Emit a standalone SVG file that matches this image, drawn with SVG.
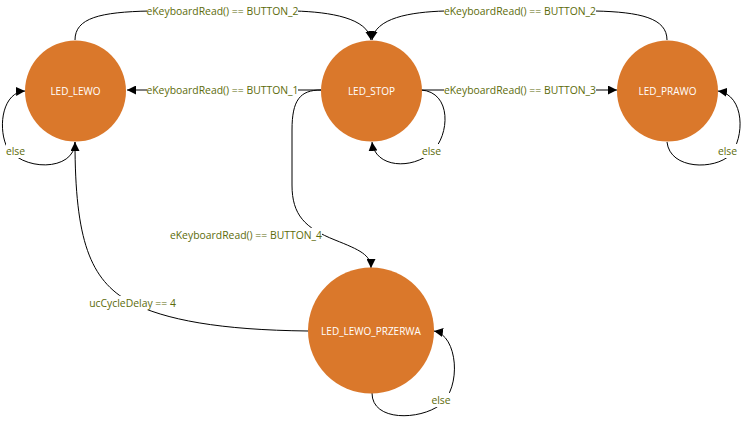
<svg xmlns="http://www.w3.org/2000/svg" width="743" height="423" viewBox="0 0 743 423">
<defs>
<marker id="arr" viewBox="0 0 10 10" refX="10" refY="5" markerWidth="9" markerHeight="9" markerUnits="userSpaceOnUse" orient="auto">
<path d="M0,0 L10,5 L0,10 z" fill="#000"/>
</marker>
<style>
.st{fill:#DA782B;}
.sl{font-family:"Open Sans","DejaVu Sans",sans-serif;font-size:10px;fill:#fff;text-anchor:middle;dominant-baseline:central;}
.e{fill:none;stroke:#000;stroke-width:1;marker-end:url(#arr);}
.lb{font-family:"Open Sans","DejaVu Sans",sans-serif;font-size:10.4px;fill:#5C6B0A;text-anchor:middle;dominant-baseline:central;}
.bg{fill:#fff;}
</style>
</defs>
<rect width="743" height="423" fill="#fff"/>
<g id="connectors">
<path class="e" d="M75,40 C75,18 100,12 150,11 L295,11 C330,12 368,18 371,40"/>
<path class="e" d="M667,40 C667,18 640,12 595,11 L445,11 C410,12 375,18 372,40"/>
<path class="e" d="M321,90 L127,90"/>
<path class="e" d="M421,90 L617,90"/>
<path class="e" d="M321,90 C300,90 292,100 292,130 L292,185 C292,215 305,228 335,240 C360,250 371,255 371,268"/>
<path class="e" d="M308,331 C220,330 165,320 130,302 C90,280 75,240 75,142"/>
<path class="e" d="M75,142 C75,172 20,172 6,145 C-2,125 3,92 25,91"/>
<path class="e" d="M421,90 C452,92 450,135 432,152 C412,170 375,168 372,142"/>
<path class="e" d="M667,142 C670,170 715,170 730,155 C745,138 745,95 718,91"/>
<path class="e" d="M372,393 C372,422 420,420 440,405 C462,388 458,335 434,331"/>
<rect class="bg" x="147" y="4" width="151" height="14"/>
<text class="lb" x="222.5" y="11">eKeyboardRead() == BUTTON_2</text>
<rect class="bg" x="444" y="4" width="152" height="14"/>
<text class="lb" x="520" y="11">eKeyboardRead() == BUTTON_2</text>
<rect class="bg" x="147" y="83" width="151" height="14"/>
<text class="lb" x="222.5" y="90">eKeyboardRead() == BUTTON_1</text>
<rect class="bg" x="444" y="83" width="152" height="14"/>
<text class="lb" x="520" y="90">eKeyboardRead() == BUTTON_3</text>
<rect class="bg" x="170" y="228" width="152" height="14"/>
<text class="lb" x="246" y="235">eKeyboardRead() == BUTTON_4</text>
<rect class="bg" x="88" y="296" width="89" height="14"/>
<text class="lb" x="132.5" y="303">ucCycleDelay == 4</text>
<rect class="bg" x="6" y="144" width="19" height="14"/>
<text class="lb" x="15.5" y="151">else</text>
<rect class="bg" x="422" y="144" width="19" height="14"/>
<text class="lb" x="431.5" y="151">else</text>
<rect class="bg" x="718" y="144" width="19" height="14"/>
<text class="lb" x="727.5" y="151">else</text>
<rect class="bg" x="432" y="393" width="18" height="14"/>
<text class="lb" x="441" y="400">else</text>
</g>
<g id="LED_LEWO"><circle class="st" cx="75.5" cy="91" r="50.5"/><text class="sl" x="75.5" y="91">LED_LEWO</text></g>
<g id="LED_STOP"><circle class="st" cx="371.5" cy="91" r="50.5"/><text class="sl" x="371.5" y="91">LED_STOP</text></g>
<g id="LED_PRAWO"><circle class="st" cx="667.5" cy="91" r="50.5"/><text class="sl" x="667.5" y="91">LED_PRAWO</text></g>
<g id="LED_LEWO_PRZERWA"><circle class="st" cx="371" cy="330.5" r="63"/><text class="sl" x="371" y="331">LED_LEWO_PRZERWA</text></g>
</svg>
